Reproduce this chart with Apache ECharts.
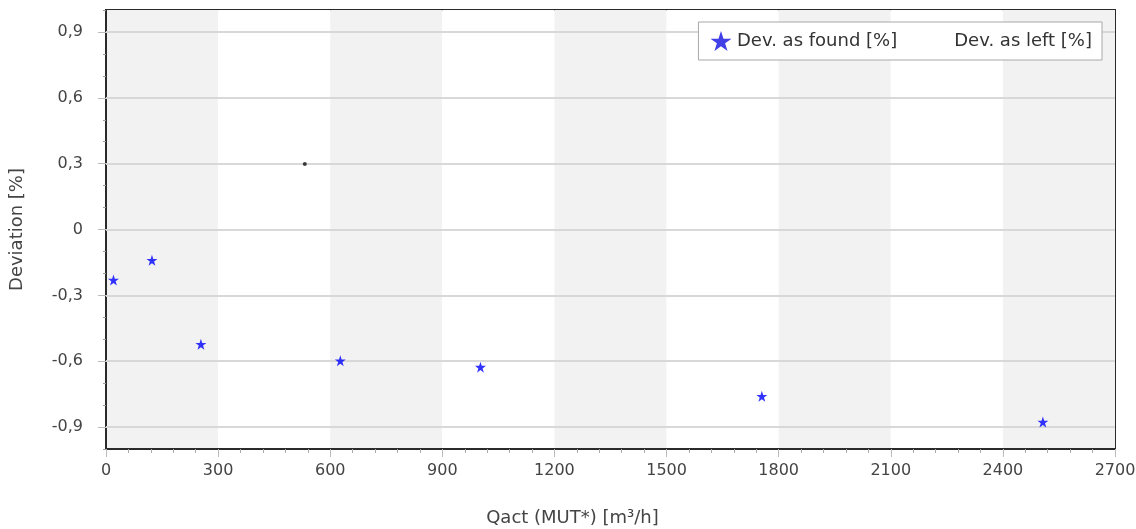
<!DOCTYPE html>
<html>
<head>
<meta charset="utf-8">
<script src="https://cdn.jsdelivr.net/npm/echarts@6/dist/echarts.min.js"></script>
<style>html,body{margin:0;padding:0;background:#fff;}#c{width:1136px;height:529px;}</style>
</head>
<body>
<div id="c"></div>
<script>
var seriesFoundName = 'Dev. as found [%]';
var seriesLeftName = 'Dev. as left [%]';
var foundQ = [20, 123, 254, 627, 1002, 1755, 2507];
var foundDev = [-0.23, -0.14, -0.523, -0.598, -0.627, -0.76, -0.877];
var leftQ = [532];
var leftDev = [0.298];
var yTicks = [-0.9, -0.6, -0.3, 0, 0.3, 0.6, 0.9];
var xTicks = [0, 300, 600, 900, 1200, 1500, 1800, 2100, 2400, 2700];
var xName = 'Qact (MUT*) [m³/h]';
var yName = 'Deviation [%]';

var STAR = 'path://M50,0 L61.8,35.5 L99,35.5 L69,57.5 L80.5,93 L50,71 L19.5,93 L31,57.5 L1,35.5 L38.2,35.5 Z';
var font = 'DejaVu Sans';

function zip(a, b) { return a.map(function (v, i) { return [v, b[i]]; }); }
function fmtY(v) { var r = Math.round(v * 10) / 10; return r === 0 ? '0' : r.toFixed(1).replace('.', ','); }

var chart = echarts.init(document.getElementById('c'), null, { renderer: 'canvas' });
chart.setOption({
  backgroundColor: '#fff',
  animation: false,
  textStyle: { fontFamily: font },
  grid: { left: 106, right: 21, top: 10, bottom: 80, containLabel: false, outerBoundsMode: 'none', show: true, borderColor: '#2a2a2a', borderWidth: 2, backgroundColor: 'transparent' },
  legend: {
    right: 34, top: 22,
    orient: 'horizontal',
    padding: [9, 10, 9, 12],
    borderColor: '#a8a8a8', borderWidth: 1, borderRadius: 0,
    backgroundColor: '#fff',
    itemWidth: 22, itemHeight: 20, itemGap: 30,
    textStyle: { fontFamily: font, fontSize: 18, color: '#333' },
    data: [
      { name: seriesFoundName, icon: STAR, itemStyle: { color: '#1010e0' } },
      { name: seriesLeftName, icon: 'none' }
    ]
  },
  xAxis: {
    type: 'value', min: xTicks[0], max: xTicks[xTicks.length - 1], interval: 300,
    name: xName, nameLocation: 'middle', nameGap: 60,
    nameTextStyle: { fontFamily: font, fontSize: 18, color: '#444', padding: [0, 76, 0, 0] },
    axisLine: { show: true, onZero: false, lineStyle: { color: '#2a2a2a', width: 2 } },
    axisTick: { show: true, length: 8, lineStyle: { color: '#bbb', width: 1 } },
    minorTick: { show: true, splitNumber: 5, length: 4, lineStyle: { color: '#aaa', width: 1 } },
    axisLabel: { margin: 14, fontFamily: font, fontSize: 16, color: '#444', formatter: function (v) { return String(v); } },
    splitLine: { show: false },
    splitArea: { show: true, areaStyle: { color: ['#f2f2f2', '#ffffff'] } }
  },
  yAxis: [
    {
      type: 'value', min: -1, max: 1, interval: 0.1,
      axisLine: { show: true, onZero: false, lineStyle: { color: '#2a2a2a', width: 2 } },
      axisTick: { show: true, length: 3, lineStyle: { color: '#999', width: 1 } },
      axisLabel: { show: false },
      splitLine: { show: false }
    },
    {
      type: 'value', min: -1, max: 1, position: 'left',
      name: yName, nameLocation: 'middle', nameGap: 80,
      nameTextStyle: { fontFamily: font, fontSize: 18, color: '#444' },
      axisLine: { show: false },
      axisTick: { show: true, length: 8, customValues: yTicks, lineStyle: { color: '#bbb', width: 1 } },
      axisLabel: { show: true, customValues: yTicks, margin: 23, fontFamily: font, fontSize: 16, color: '#444', formatter: fmtY },
      splitLine: { show: false }
    }
  ],
  series: [
    {
      name: seriesFoundName, type: 'scatter', yAxisIndex: 1,
      symbol: STAR, symbolSize: 11,
      itemStyle: { color: '#0000ff' },
      data: zip(foundQ, foundDev), z: 5,
      markLine: {
        silent: true, symbol: 'none', animation: false, z: 1,
        label: { show: false },
        lineStyle: { color: '#d8d8d8', width: 2, type: 'solid' },
        emphasis: { disabled: true },
        data: yTicks.map(function (v) { return { yAxis: v }; })
      }
    },
    {
      name: seriesLeftName, type: 'scatter', yAxisIndex: 1,
      symbol: 'circle', symbolSize: 4,
      itemStyle: { color: '#111' },
      data: zip(leftQ, leftDev), z: 5
    }
  ]
});
</script>
</body>
</html>
